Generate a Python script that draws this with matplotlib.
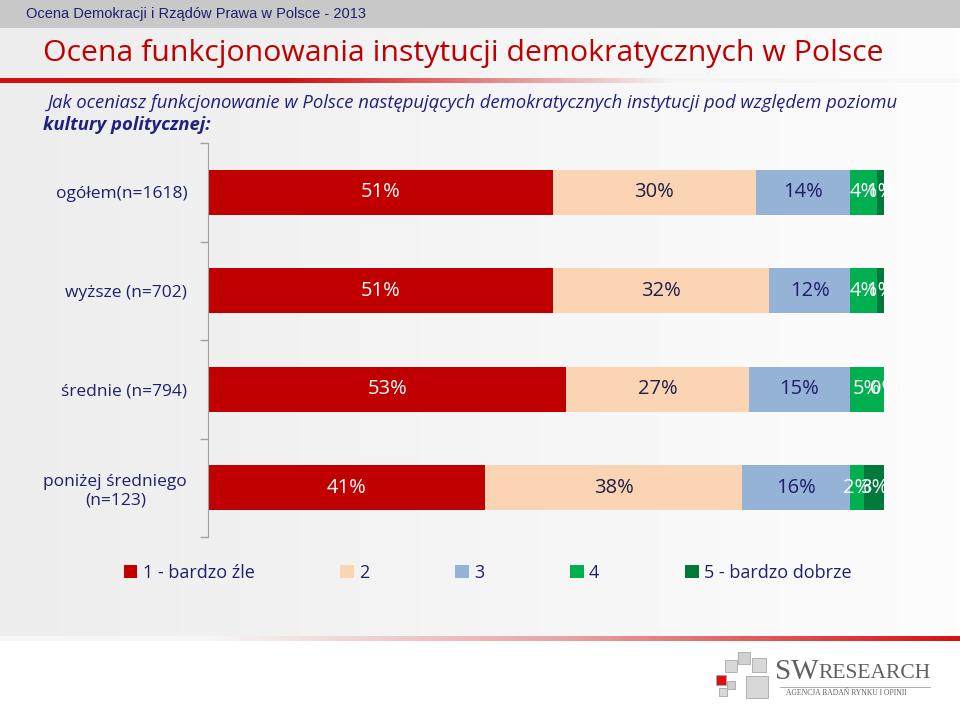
import numpy as np
import matplotlib
matplotlib.use("Agg")
import matplotlib.pyplot as plt
from matplotlib.patches import Rectangle
from matplotlib.colors import LinearSegmentedColormap

plt.rcParams['font.family'] = ['Open Sans', 'DejaVu Sans']

# data
groups = ["ogółem(n=1618)", "wyższe (n=702)", "średnie (n=794)", "poniżej średniego\n(n=123)"]
series_names = ["1 - bardzo źle", "2", "3", "4", "5 - bardzo dobrze"]
v1 = [51, 51, 53, 41]
v2 = [30, 32, 27, 38]
v3 = [14, 12, 15, 16]
v4 = [4, 4, 5, 2]
v5 = [1, 1, 0, 3]
series = [v1, v2, v3, v4, v5]
colors = ["#C00000", "#FBD4B4", "#95B3D7", "#00B050", "#00793A"]
label_colors = ["white", "#1E1E48", "#1E1E6A", "white", "white"]

navy = "#1F1F6E"

fig = plt.figure(figsize=(9.6, 7.2), dpi=100)
fig.patch.set_facecolor("white")

# background decorations
bg = fig.add_axes([0, 0, 1, 1], zorder=-5)
bg.axis("off")
grad = np.linspace(0, 1, 256).reshape(1, -1)
grayfade = LinearSegmentedColormap.from_list("gf", ["#EDEDED", "#FDFDFD"])
bg.imshow(grad, extent=(0, 960, 640, 28), cmap=grayfade, aspect="auto")
bg.add_patch(Rectangle((0, 0), 960, 28, color="#C8C8C8", lw=0))
redfade = LinearSegmentedColormap.from_list("rf", [(0, "#D01010"), (0.3, "#D01010"), (0.7, "#F4F4F4"), (1, "#F8F8F8")])
bg.imshow(grad, extent=(0, 960, 83, 78), cmap=redfade, aspect="auto")
redfade2 = LinearSegmentedColormap.from_list("rf2", [(0, "#F6F6F6"), (0.22, "#F6F6F6"), (0.6, "#E8A0A0"), (1, "#D81010")])
bg.imshow(grad, extent=(0, 960, 641, 636), cmap=redfade2, aspect="auto")
bg.set_xlim(0, 960)
bg.set_ylim(720, 0)

fig.text(0.027, 1 - 14 / 720, "Ocena Demokracji i Rządów Prawa w Polsce - 2013",
         family="Liberation Sans", fontsize=10.5, color=navy, va="center")
fig.text(0.045, 1 - 53 / 720, "Ocena funkcjonowania instytucji demokratycznych w Polsce",
         fontsize=21.8, color="#C00000", va="center")
fig.text(0.05, 1 - 103 / 720,
         "Jak oceniasz funkcjonowanie w Polsce następujących demokratycznych instytucji pod względem poziomu",
         fontsize=13.3, style="italic", color="#202080", va="center")
fig.text(0.045, 1 - 125 / 720, "kultury politycznej:",
         fontsize=13.3, style="italic", weight="bold", color="#202080", va="center")

# logo
for (x, y, s, c) in [(725, 660, 12, "#D8D8D8"), (738, 652, 12, "#D0D0D0"), (752, 658, 14, "#D8D8D8"),
                     (716, 675, 10, "#E01010"), (727, 681, 8, "#D0D0D0"), (719, 688, 8, "#D8D8D8"),
                     (746, 676, 22, "#D8D8D8")]:
    bg.add_patch(Rectangle((x, y), s, s, facecolor=c, edgecolor="#A8A8A8", lw=0.6))
fig.text(775 / 960, 1 - 672 / 720, "SW", family="Liberation Serif", fontsize=21, color="#606060", va="center")
fig.text(818 / 960, 1 - 674 / 720, "RESEARCH", family="Liberation Serif", fontsize=15.5, color="#606060", va="center")
bg.plot([780, 930], [687, 687], color="#A0A0A0", lw=0.6)
fig.text(786 / 960, 1 - 693 / 720, "AGENCJA BADAŃ RYNKU I OPINII", family="Liberation Serif",
         fontsize=5.5, color="#606060", va="center")

# chart
ax = fig.add_axes([208 / 960, 1 - 537 / 720, 676 / 960, 394 / 720])
ax.patch.set_alpha(0)
ypos = np.arange(len(groups))
left = np.zeros(len(groups))
for i, vals in enumerate(series):
    vals = np.array(vals, dtype=float)
    bars = ax.barh(ypos, vals, left=left, height=0.46, color=colors[i], label=series_names[i])
    for j, b in enumerate(bars):
        ax.text(left[j] + vals[j] / 2, ypos[j], f"{int(vals[j])}%", ha="center", va="center",
                fontsize=14.5, color=label_colors[i])
    left = left + vals

ax.set_xlim(0, 100)
ax.set_ylim(len(groups) - 0.5, -0.5)
ax.set_yticks(ypos)
ax.set_yticklabels(groups, fontsize=12.5, color=navy, ha="right", multialignment="center")
ax.tick_params(axis="y", which="major", length=0, pad=15)
ax.set_yticks(np.arange(-0.5, len(groups)), minor=True)
ax.tick_params(axis="y", which="minor", length=6, color="#A0A0A0", width=1)
ax.set_xticks([])
for s in ["top", "right", "bottom"]:
    ax.spines[s].set_visible(False)
ax.spines["left"].set_color("#A0A0A0")

fig.legend(loc="center", bbox_to_anchor=(0.508, 1 - 573 / 720), ncol=5, frameon=False,
           handlelength=0.75, handleheight=0.75, handletextpad=0.3, columnspacing=4.75,
           prop={"size": 13}, labelcolor=navy)

fig.savefig("out.png", dpi=100, facecolor=fig.get_facecolor())
